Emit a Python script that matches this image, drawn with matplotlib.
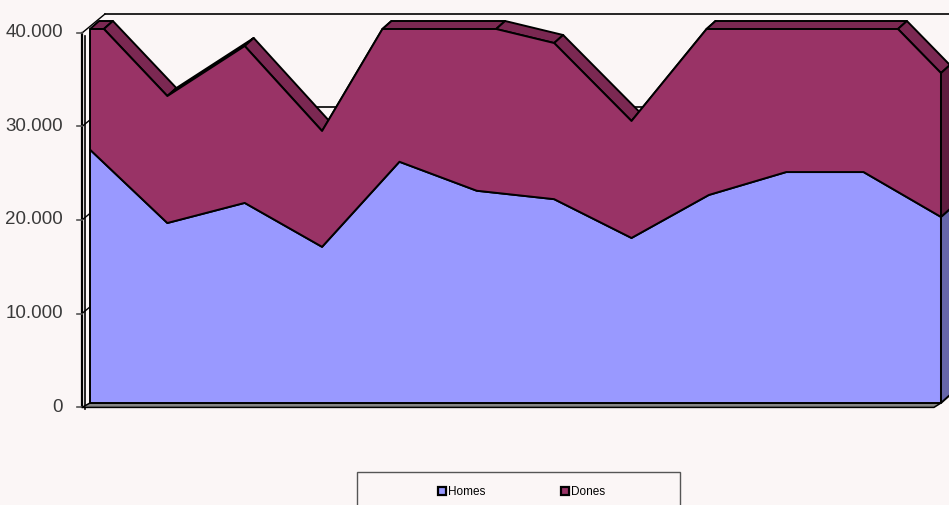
import numpy as np
import matplotlib.pyplot as plt
from matplotlib.patches import Polygon, Patch, Rectangle

# dades
categories = ['1', '2', '3', '4', '5', '6', '7', '8', '9', '10', '11', '12']
homes = [27100, 19250, 21400, 16700, 25800, 22700, 21800, 17650, 22250, 24700, 24700, 19900]
dones = [14470, 13580, 16780, 12390, 17270, 17800, 16700, 12510, 18050, 17300, 19060, 15390]
series_names = ['Homes', 'Dones']
yticks = [0, 10000, 20000, 30000, 40000]
ytick_labels = ['0', '10.000', '20.000', '30.000', '40.000']

bg = '#fbf6f6'
c_homes = '#9999ff'
c_dones = '#993366'
c_dones_top = '#7b2852'
c_dones_side = '#5f1c3f'
c_homes_side = '#6666aa'
ymax = 40000

# escala en pixels per fer el fals 3D
sx = 77.36      # px per categoria
sy = 0.00935    # px per unitat
dx, dy = 9 / sx, 8 / sy          # gruix de la serie
fx, fdy = -8 / sx, -4 / sy       # pla de l'eix (davant)
bx, bdy = 15 / sx, 15 / sy       # paret del fons

x = np.arange(len(categories))
h = np.array(homes, dtype=float)
tot = h + np.array(dones, dtype=float)


def clip_top(xs, ys, top):
    pts = []
    for i in range(len(xs)):
        if i > 0:
            x0, y0, x1, y1 = xs[i-1], ys[i-1], xs[i], ys[i]
            if (y0 - top) * (y1 - top) < 0:
                t = (top - y0) / (y1 - y0)
                pts.append((x0 + t * (x1 - x0), top))
        pts.append((xs[i], min(ys[i], top)))
    # treure els punts del mig dels trams plans
    out = [pts[0]]
    for i in range(1, len(pts) - 1):
        if not (pts[i-1][1] == top and pts[i][1] == top and pts[i+1][1] == top):
            out.append(pts[i])
    out.append(pts[-1])
    return out


fig = plt.figure(figsize=(9.49, 5.05), dpi=100, facecolor=bg)
ax = fig.add_axes([0, 0, 1, 1])
ax.set_facecolor(bg)
ax.set_xlim(-90 / sx, (949 - 90) / sx)
ax.set_ylim(-(505 - 403) / sy, 403 / sy)
ax.axis('off')

lw = 1.4
right = ax.get_xlim()[1] + 1

# parets: linies de graella al fons i a la paret esquerra
for v in yticks[1:]:
    ax.plot([x[0] + bx, right], [v + bdy, v + bdy], color='black', lw=1.2, zorder=1)
    ax.plot([x[0] + fx, x[0] + bx], [v + fdy, v + bdy], color='black', lw=1.0, zorder=1)
ax.plot([x[0] + fx] * 2, [fdy, ymax + fdy], color='black', lw=1.6, zorder=1)
ax.plot([x[0] + fx + 2.5 / sx] * 2, [fdy - 2 / sy, ymax + fdy - 3 / sy], color='black', lw=1.2, zorder=1)
for v, lab in zip(yticks, ytick_labels):
    ax.plot([x[0] + fx - 5 / sx, x[0] + fx], [v + fdy, v + fdy], color='#555555', lw=1.2, zorder=1)
    ax.text(x[0] + fx - 19 / sx, v + fdy, lab, ha='right', va='center', fontsize=13.5,
            color='#3a3a3a', family='Liberation Sans')

# terra
floor = [(x[0] + fx, fdy * 1.1), (x[-1] - 7 / sx, fdy * 1.1), (x[-1], 0), (x[0], 0)]
ax.add_patch(Polygon(floor, closed=True, facecolor='#858585', edgecolor='black', lw=1.1, zorder=2))

# cara superior (gruix) de la serie Dones
top = clip_top(x, tot, ymax)
for (x0, y0), (x1, y1) in zip(top[:-1], top[1:]):
    quad = [(x0, y0), (x1, y1), (x1 + dx, y1 + dy), (x0 + dx, y0 + dy)]
    ax.add_patch(Polygon(quad, closed=True, facecolor=c_dones_top, edgecolor='black',
                         lw=lw, joinstyle='round', zorder=3))

# cares laterals a la dreta
xe, he, te = x[-1], h[-1], min(tot[-1], ymax)
ax.add_patch(Polygon([(xe, 0), (xe, he), (xe + dx, he + dy), (xe + dx, dy)], closed=True,
                     facecolor=c_homes_side, edgecolor='black', lw=lw, zorder=3))
ax.add_patch(Polygon([(xe, he), (xe, te), (xe + dx, te + dy), (xe + dx, he + dy)], closed=True,
                     facecolor=c_dones_side, edgecolor='black', lw=lw, zorder=3))

# cares frontals
homes_face = [(x[0], 0)] + list(zip(x, h)) + [(x[-1], 0)]
dones_face = top + list(zip(x[::-1], h[::-1]))
ax.add_patch(Polygon(homes_face, closed=True, facecolor=c_homes, edgecolor='black',
                     lw=lw, joinstyle='round', zorder=4))
ax.add_patch(Polygon(dones_face, closed=True, facecolor=c_dones, edgecolor='black',
                     lw=lw, joinstyle='round', zorder=4))

# llegenda
handles = [Patch(facecolor=c_homes, edgecolor='black', lw=1.6),
           Patch(facecolor=c_dones, edgecolor='black', lw=1.6)]
fig.legend(handles, series_names, loc='center left', bbox_to_anchor=(427 / 949, 1 - 492 / 505),
           ncol=2, frameon=False, handlelength=0.75, handleheight=0.75,
           handletextpad=0.1, columnspacing=6.4, prop={'family': 'Liberation Sans', 'size': 8.5})
fig.add_artist(Rectangle((357 / 949, -10 / 505), 323 / 949, 43 / 505, transform=fig.transFigure,
                         facecolor='none', edgecolor='#555555', lw=1.0))

plt.savefig('out.png', dpi=100, facecolor=bg)
